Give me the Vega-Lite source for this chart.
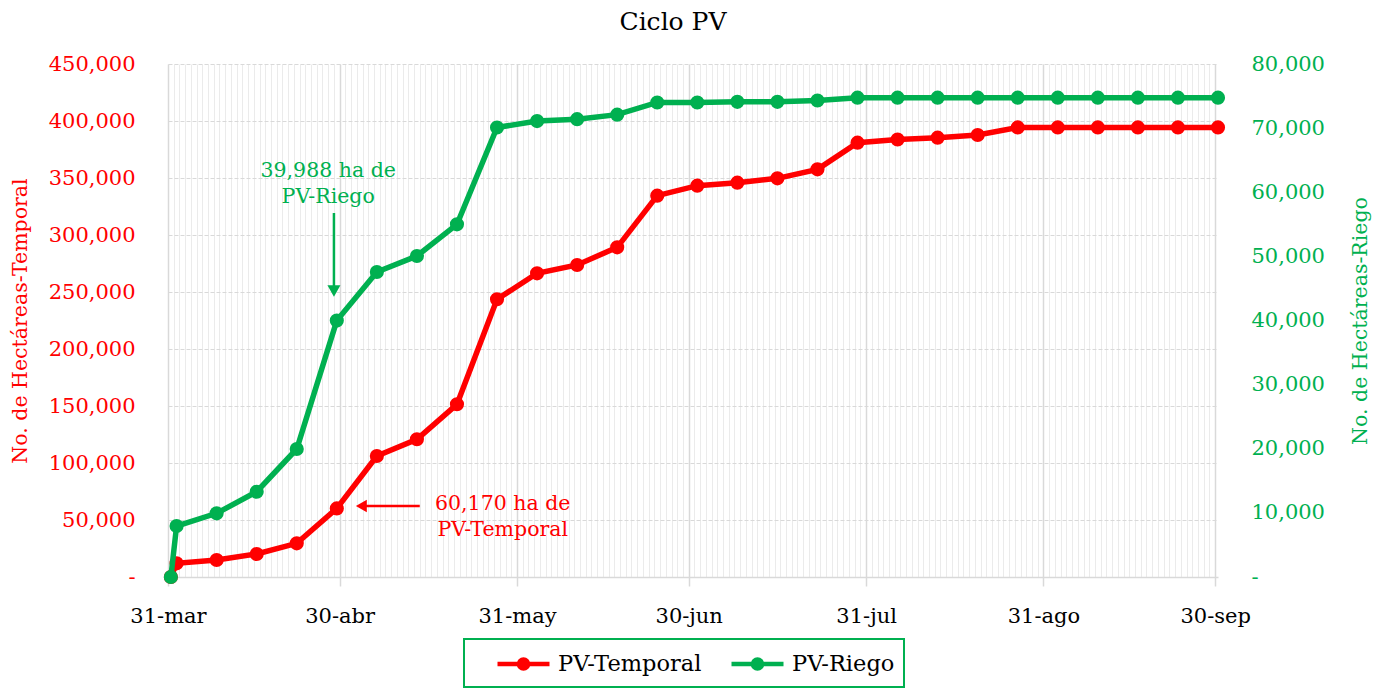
{
  "$schema": "https://vega.github.io/schema/vega-lite/v6.json",
  "width": 1050,
  "height": 513,
  "autosize": {"type": "none"},
  "padding": {"left": 168, "top": 64, "right": 157, "bottom": 111},
  "background": "white",
  "title": {"text": "Ciclo PV", "fontSize": 25, "font": "DejaVu Serif", "fontWeight": "normal", "color": "#000000", "anchor": "middle", "dx": -20, "offset": 18},
  "config": {
    "font": "DejaVu Serif",
    "view": {"stroke": null},
    "axis": {"labelFont": "DejaVu Serif", "titleFont": "DejaVu Serif", "labelFontSize": 21, "titleFontSize": 20.5, "titleFontWeight": "normal"}
  },
  "datasets": {
    "main": [
      {"date": "2024-03-31", "temporal": 0, "riego": 0},
      {"date": "2024-04-01", "temporal": 12000, "riego": 7950},
      {"date": "2024-04-08", "temporal": 14900, "riego": 9930},
      {"date": "2024-04-15", "temporal": 20200, "riego": 13300},
      {"date": "2024-04-22", "temporal": 29500, "riego": 19960},
      {"date": "2024-04-29", "temporal": 60170, "riego": 39988},
      {"date": "2024-05-06", "temporal": 106100, "riego": 47560},
      {"date": "2024-05-13", "temporal": 120800, "riego": 50060},
      {"date": "2024-05-20", "temporal": 151500, "riego": 55000},
      {"date": "2024-05-27", "temporal": 243600, "riego": 70100},
      {"date": "2024-06-03", "temporal": 266400, "riego": 71100},
      {"date": "2024-06-10", "temporal": 273700, "riego": 71400},
      {"date": "2024-06-17", "temporal": 289200, "riego": 72100},
      {"date": "2024-06-24", "temporal": 334500, "riego": 74000},
      {"date": "2024-07-01", "temporal": 343300, "riego": 74000},
      {"date": "2024-07-08", "temporal": 345900, "riego": 74100},
      {"date": "2024-07-15", "temporal": 349700, "riego": 74100},
      {"date": "2024-07-22", "temporal": 357600, "riego": 74300},
      {"date": "2024-07-29", "temporal": 381000, "riego": 74750},
      {"date": "2024-08-05", "temporal": 383800, "riego": 74750},
      {"date": "2024-08-12", "temporal": 385400, "riego": 74750},
      {"date": "2024-08-19", "temporal": 387700, "riego": 74750},
      {"date": "2024-08-26", "temporal": 394400, "riego": 74750},
      {"date": "2024-09-02", "temporal": 394400, "riego": 74750},
      {"date": "2024-09-09", "temporal": 394400, "riego": 74750},
      {"date": "2024-09-16", "temporal": 394400, "riego": 74750},
      {"date": "2024-09-23", "temporal": 394400, "riego": 74750},
      {"date": "2024-09-30", "temporal": 394400, "riego": 74750}
    ],
    "redArrow": [{"d1": "2024-05-04T06:00:00Z", "d2": "2024-05-14T00:00:00Z", "v": 62300}],
    "redHead": [{"d": "2024-05-03T19:00:00Z", "v": 62300}],
    "redLabel": [{"d": "2024-05-28T12:00:00Z", "v": 64000, "label": "60,170 ha de\nPV-Temporal"}],
    "greenArrow": [{"d": "2024-04-29", "v1": 56760, "v2": 45070}],
    "greenHead": [{"d": "2024-04-29", "v": 44600}],
    "greenLabel": [{"d": "2024-04-28", "v": 63320, "label": "39,988 ha de\nPV-Riego"}]
  },
  "layer": [
    {
      "layer": [
        {
          "data": {"name": "main"},
          "mark": {"type": "line", "strokeWidth": 5.5, "point": {"filled": true, "size": 200}},
          "encoding": {
            "x": {
              "field": "date", "type": "temporal", "timeUnit": "utcyearmonthdate", "bandPosition": 0.5,
              "scale": {"type": "utc", "domain": [{"year": 2024, "month": 3, "date": 31, "utc": true}, {"year": 2024, "month": 9, "date": 30, "hours": 12, "utc": true}]},
              "axis": {"orient": "bottom", "offset": 0, "grid": true, "gridColor": "#ebebeb", "gridWidth": 1, "tickCount": {"interval": "day", "step": 1}, "labels": false, "ticks": false, "domain": false, "title": null}
            },
            "y": {
              "field": "temporal", "type": "quantitative",
              "scale": {"domain": [0, 450000]},
              "axis": {
                "orient": "left", "values": [0, 50000, 100000, 150000, 200000, 250000, 300000, 350000, 400000, 450000],
                "grid": true, "gridColor": "#d9d9d9", "gridDash": [4, 2], "gridWidth": 1.2,
                "domain": false, "ticks": false, "tickSize": 0,
                "labelColor": "#ff0000", "labelPadding": 33,
                "labelExpr": "datum.value === 0 ? '-' : format(datum.value, ',')",
                "title": "No. de Hectáreas-Temporal", "titleColor": "#ff0000", "titlePadding": 18
              }
            },
            "color": {
              "datum": "PV-Temporal",
              "scale": {"domain": ["PV-Temporal", "PV-Riego"], "range": ["#ff0000", "#00b050"]},
              "legend": {
                "orient": "none", "legendX": 296, "legendY": 575, "direction": "horizontal", "title": null,
                "strokeColor": "#00b050", "padding": 9,
                "symbolType": "M-2,0H2M0.35,0A0.35,0.35,0,1,1,-0.35,0A0.35,0.35,0,1,1,0.35,0Z",
                "symbolSize": 676, "symbolStrokeWidth": 4.5, "symbolOffset": 35, "labelOffset": 19, "columnPadding": 5,
                "labelFontSize": 22.5, "labelColor": "#000000", "labelFont": "DejaVu Serif",
                "encode": {
                  "legend": {"update": {"strokeWidth": {"value": 2}}},
                  "symbols": {"update": {"fill": {"scale": "color", "field": "value"}, "stroke": {"scale": "color", "field": "value"}, "opacity": {"value": 1}}}
                }
              }
            }
          }
        },
        {
          "data": {"name": "redArrow"},
          "mark": {"type": "rule", "color": "#ff0000", "strokeWidth": 2.5},
          "encoding": {
            "x": {"field": "d1", "type": "temporal"},
            "x2": {"field": "d2"},
            "y": {"field": "v", "type": "quantitative"}
          }
        },
        {
          "data": {"name": "redHead"},
          "mark": {"type": "point", "shape": "triangle-left", "filled": true, "color": "#ff0000", "size": 160, "opacity": 1},
          "encoding": {
            "x": {"field": "d", "type": "temporal"},
            "y": {"field": "v", "type": "quantitative"}
          }
        },
        {
          "data": {"name": "redLabel"},
          "mark": {"type": "text", "color": "#ff0000", "fontSize": 20.5, "font": "DejaVu Serif", "lineBreak": "\n", "lineHeight": 26, "align": "center", "baseline": "middle"},
          "encoding": {
            "x": {"field": "d", "type": "temporal"},
            "y": {"field": "v", "type": "quantitative"},
            "text": {"field": "label"}
          }
        }
      ]
    },
    {
      "layer": [
        {
          "data": {"name": "main"},
          "mark": {"type": "line", "strokeWidth": 5.5, "point": {"filled": true, "size": 200}},
          "encoding": {
            "x": {
              "field": "date", "type": "temporal", "timeUnit": "utcyearmonthdate", "bandPosition": 0.5,
              "scale": {"type": "utc", "domain": [{"year": 2024, "month": 3, "date": 31, "utc": true}, {"year": 2024, "month": 9, "date": 30, "hours": 12, "utc": true}]},
              "axis": {
                "orient": "bottom", "offset": 0,
                "values": [
                  {"year": 2024, "month": 3, "date": 31, "utc": true},
                  {"year": 2024, "month": 4, "date": 30, "utc": true},
                  {"year": 2024, "month": 5, "date": 31, "utc": true},
                  {"year": 2024, "month": 6, "date": 30, "utc": true},
                  {"year": 2024, "month": 7, "date": 31, "utc": true},
                  {"year": 2024, "month": 8, "date": 31, "utc": true},
                  {"year": 2024, "month": 9, "date": 30, "utc": true}
                ],
                "grid": true, "gridColor": "#d9d9d9", "gridWidth": 1.5,
                "ticks": true, "tickSize": 9, "tickColor": "#d9d9d9", "tickWidth": 1.5,
                "domain": true, "domainColor": "#d9d9d9", "domainWidth": 1.5,
                "labelExpr": "utcFormat(datum.value, '%d') + '-' + ['ene','feb','mar','abr','may','jun','jul','ago','sep','oct','nov','dic'][utcmonth(datum.value)]",
                "labelPadding": 19, "labelColor": "#000000", "labelFlush": false, "title": null
              }
            },
            "y": {
              "field": "riego", "type": "quantitative",
              "scale": {"domain": [0, 80000]},
              "axis": {
                "orient": "right", "values": [0, 10000, 20000, 30000, 40000, 50000, 60000, 70000, 80000],
                "grid": false, "domain": false, "ticks": false, "tickSize": 0,
                "labelColor": "#00b050", "labelPadding": 33,
                "labelExpr": "datum.value === 0 ? '-' : format(datum.value, ',')",
                "title": "No. de Hectáreas-Riego", "titleColor": "#00b050", "titlePadding": 46, "titleAngle": 270
              }
            },
            "color": {"datum": "PV-Riego"}
          }
        },
        {
          "data": {"name": "greenArrow"},
          "mark": {"type": "rule", "color": "#00b050", "strokeWidth": 2.5},
          "encoding": {
            "x": {"field": "d", "type": "temporal"},
            "y": {"field": "v1", "type": "quantitative"},
            "y2": {"field": "v2"}
          }
        },
        {
          "data": {"name": "greenHead"},
          "mark": {"type": "point", "shape": "triangle-down", "filled": true, "color": "#00b050", "size": 170, "opacity": 1},
          "encoding": {
            "x": {"field": "d", "type": "temporal"},
            "y": {"field": "v", "type": "quantitative"}
          }
        },
        {
          "data": {"name": "greenLabel"},
          "mark": {"type": "text", "color": "#00b050", "fontSize": 20.5, "font": "DejaVu Serif", "lineBreak": "\n", "lineHeight": 26, "align": "center", "baseline": "middle"},
          "encoding": {
            "x": {"field": "d", "type": "temporal"},
            "y": {"field": "v", "type": "quantitative"},
            "text": {"field": "label"}
          }
        }
      ]
    }
  ],
  "resolve": {"scale": {"y": "independent"}, "axis": {"x": "independent"}}
}
